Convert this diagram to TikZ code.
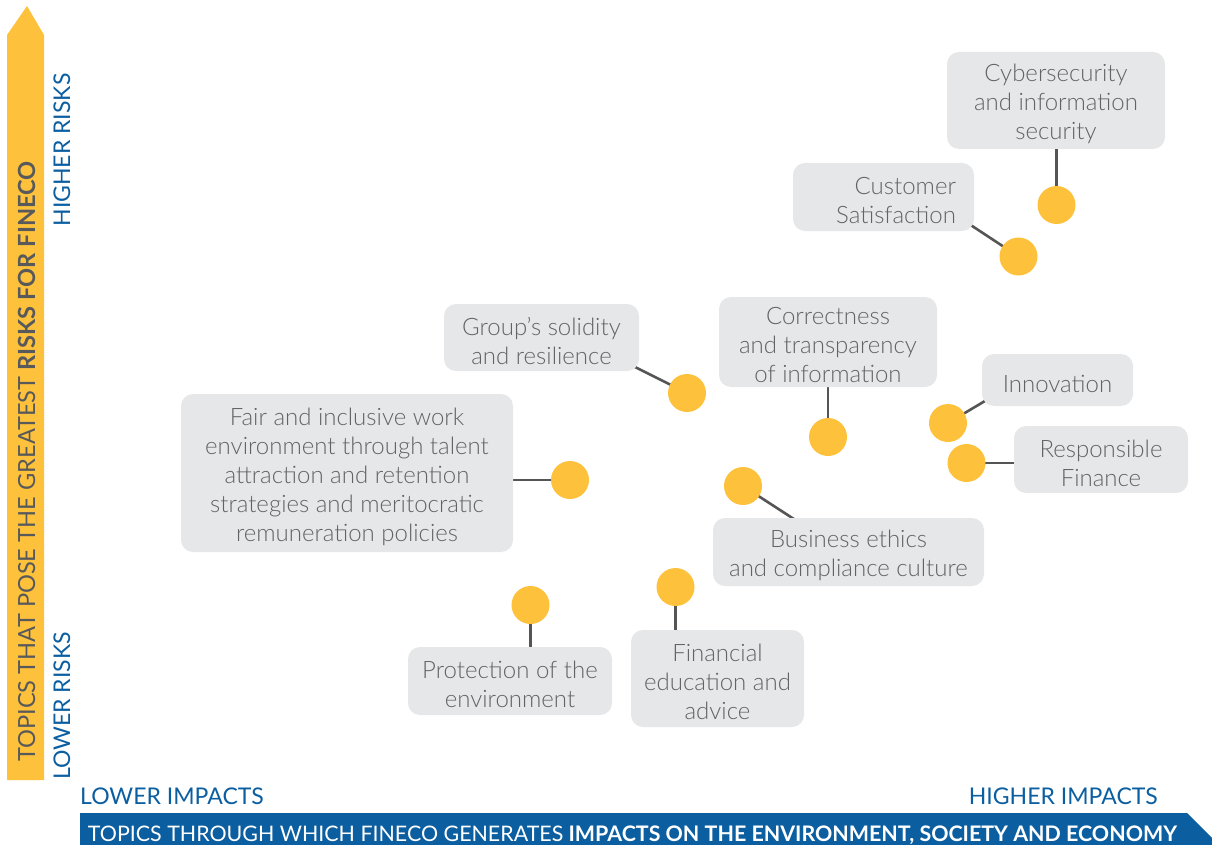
\documentclass[tikz,border=0pt]{standalone}
\usepackage{fontspec}
\setmainfont{Lato}[BoldFont={Lato Bold}]
\newfontfamily\lightfont{Lato Light}
\definecolor{ylw}{HTML}{FEC13B}
\definecolor{blu}{HTML}{0B5EA0}
\definecolor{boxg}{HTML}{E6E7E8}
\definecolor{txtg}{HTML}{626365}
\definecolor{lineg}{HTML}{555555}
\definecolor{axtxt}{HTML}{58595B}
\pgfdeclarelayer{bg}
\pgfsetlayers{bg,main}
\begin{document}
\begin{tikzpicture}[x=1pt,y=-1pt,
  topic/.style={fill=boxg, rounded corners=12pt, inner sep=0pt},
  ttext/.style={text=txtg, font=\lightfont\fontsize{24}{29}\selectfont, align=center, inner sep=0pt, yshift=-3.5pt},
  dot/.style={circle, fill=ylw, minimum size=38pt, inner sep=0pt},
  link/.style={draw=lineg, line width=2.6pt},
  axlab/.style={text=blu, font=\fontsize{23}{25}\selectfont, inner sep=0pt}
]
\useasboundingbox (0,0) rectangle (1212,845);
\clip (0,0) rectangle (1212,845);

% axes
\fill[ylw] (7,780) -- (7,35) -- (27,6) -- (44,35) -- (44,780) -- cycle;
\node[rotate=90, anchor=base, text=axtxt, font=\fontsize{23.6}{25}\selectfont, inner sep=0pt] (ytitle) at (35,461.5) {TOPICS THAT POSE THE GREATEST \textbf{RISKS FOR FINECO}};
\fill[blu] (80,813) -- (1187,813) -- (1218,844) -- (1187,875) -- (80,875) -- cycle;
\node[anchor=base, text=white, font=\fontsize{21.4}{24}\selectfont, inner sep=0pt] (xtitle) at (632.5,841) {TOPICS THROUGH WHICH FINECO GENERATES \textbf{IMPACTS ON THE ENVIRONMENT, SOCIETY AND ECONOMY}};

\node[axlab, rotate=90, anchor=base] (hr) at (70,150) {HIGHER RISKS};
\node[axlab, rotate=90, anchor=base] (lr) at (70,706) {LOWER RISKS};
\node[axlab, anchor=base west] (li) at (80,804) {LOWER IMPACTS};
\node[axlab, anchor=base east] (hi) at (1158,804) {HIGHER IMPACTS};

% topic boxes
\node[topic, minimum width=218pt, minimum height=97pt] (cyber) at (1056,100.5) {};
\node[topic, minimum width=181pt, minimum height=68pt] (cust) at (883.5,197) {};
\node[topic, minimum width=195pt, minimum height=67pt] (group) at (541.5,337.5) {};
\node[topic, minimum width=218pt, minimum height=90pt] (correct) at (828,342) {};
\node[topic, minimum width=151pt, minimum height=52pt] (innov) at (1057.5,380) {};
\node[topic, minimum width=174pt, minimum height=67pt] (resp) at (1101,459.5) {};
\node[topic, minimum width=332pt, minimum height=158pt] (fair) at (347,473) {};
\node[topic, minimum width=271pt, minimum height=68pt] (business) at (848.5,552) {};
\node[topic, minimum width=204pt, minimum height=68pt] (protect) at (510,681) {};
\node[topic, minimum width=173pt, minimum height=97pt] (financial) at (717.5,678.5) {};

% topic texts
\node[ttext] (cyber-t) at (cyber.center) {Cybersecurity\\and information\\security};
\node[ttext, align=right, anchor=east] (cust-t) at ([xshift=-18pt]cust.east) {Customer\\Satisfaction};
\node[ttext] (group-t) at (group.center) {Group’s solidity\\and resilience};
\node[ttext] (correct-t) at (correct.center) {Correctness\\and transparency\\of information};
\node[ttext] (innov-t) at (innov.center) {Innovation};
\node[ttext] (resp-t) at (resp.center) {Responsible\\Finance};
\node[ttext] (fair-t) at (fair.center) {Fair and inclusive work\\environment through talent\\attraction and retention\\strategies and meritocratic\\remuneration policies};
\node[ttext] (business-t) at (business.center) {Business ethics\\and compliance culture};
\node[ttext] (protect-t) at (protect.center) {Protection of the\\environment};
\node[ttext] (financial-t) at (financial.center) {Financial\\education and\\advice};

% dots
\node[dot] (d1) at (1056.5,205) {};
\node[dot] (d2) at (1018.5,256.5) {};
\node[dot] (d3) at (687,393) {};
\node[dot] (d4) at (828,437) {};
\node[dot] (d5) at (948,423) {};
\node[dot] (d6) at (966.5,463) {};
\node[dot] (d7) at (570,480) {};
\node[dot] (d8) at (743,486) {};
\node[dot] (d9) at (530.5,605) {};
\node[dot] (d10) at (675.5,587) {};

% connector anchors inside boxes
\coordinate (c1) at (1056.5,140);
\coordinate (c2) at (960,218);
\coordinate (c3) at (630,364.5);
\coordinate (c4) at (828,380);
\coordinate (c5) at (995,395);
\coordinate (c6) at (1022,463);
\coordinate (c7) at (505,480);
\coordinate (c8) at (800,523);
\coordinate (c9) at (530.5,655);
\coordinate (c10) at (675.5,640);

\begin{pgfonlayer}{bg}
\draw[link] (c1) -- (d1.center);
\draw[link] (c2) -- (d2.center);
\draw[link] (c3) -- (d3.center);
\draw[link] (c4) -- (d4.center);
\draw[link] (c5) -- (d5.center);
\draw[link] (c6) -- (d6.center);
\draw[link] (c7) -- (d7.center);
\draw[link] (c8) -- (d8.center);
\draw[link] (c9) -- (d9.center);
\draw[link] (c10) -- (d10.center);
\end{pgfonlayer}
\end{tikzpicture}
\end{document}
